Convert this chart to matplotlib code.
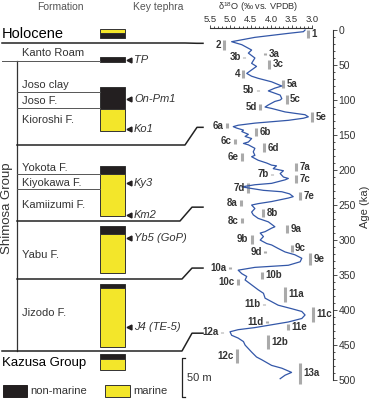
import matplotlib
matplotlib.use('Agg')
import matplotlib.pyplot as plt
from matplotlib.patches import Rectangle
from matplotlib.ticker import FixedLocator, MultipleLocator
import numpy as np

plt.rcParams['font.family'] = ['Liberation Sans', 'DejaVu Sans']
plt.rcParams['mathtext.default'] = 'regular'

# ---- d18O stack (age ka, permil) ----
age = [0, 2.4, 4.8, 10.5, 16.7, 21, 28.6, 33, 40, 47.6, 52, 57, 62, 66, 69, 74, 80, 83, 87, 93,
       98, 100, 102, 107, 110, 112, 117, 119, 121, 124, 126, 129, 133, 136, 138, 140, 143, 145,
       149, 152, 155, 160, 162, 164, 169, 174, 179, 181, 186, 190, 193, 194, 198, 201, 205, 210,
       212, 214, 219, 221, 224, 226, 229, 231, 234, 238, 240, 245, 248, 250, 255, 260, 264, 269,
       274, 281, 283, 288, 290, 295, 300, 305, 307, 312, 317, 321, 326, 331, 336, 339, 343, 348,
       352, 357, 364, 371, 376, 383, 388, 393, 398, 402, 407, 412, 417, 421, 425, 428, 431, 436,
       440, 445, 450, 455, 460, 467, 471, 479, 483, 489, 493, 498]
d18o = [3.17, 3.21, 3.58, 4.40, 4.97, 4.72, 4.48, 4.56, 4.40, 4.48, 4.36, 4.48, 4.60, 4.48, 4.32,
        3.99, 3.74, 3.91, 4.07, 3.78, 3.74, 3.78, 3.91, 4.07, 4.15, 3.99, 3.66, 3.42, 3.17, 3.09,
        3.21, 3.58, 4.40, 4.81, 4.93, 4.85, 4.68, 4.72, 4.56, 4.64, 4.48, 4.56, 4.68, 4.56, 4.40,
        4.44, 4.40, 4.48, 4.32, 4.11, 3.99, 3.87, 3.95, 3.70, 3.78, 3.70, 3.58, 3.66, 3.99, 4.40,
        4.72, 4.52, 4.19, 3.74, 3.55, 3.46, 3.58, 3.99, 4.32, 4.48, 4.40, 4.48, 4.44, 4.32, 4.07,
        3.91, 3.99, 4.15, 4.27, 4.19, 4.27, 4.11, 3.99, 3.83, 3.66, 3.42, 3.25, 3.29, 3.58, 4.40,
        4.81, 4.72, 4.60, 4.64, 4.48, 4.32, 4.19, 4.15, 3.99, 3.83, 3.50, 3.25, 3.17, 3.25, 3.58,
        3.99, 4.40, 4.81, 5.01, 4.97, 4.81, 4.68, 4.64, 4.56, 4.48, 4.36, 4.23, 3.99, 3.74, 3.50,
        3.66, 3.78]

# ---- marine isotope (sub)stages ----
mis_name = ['1', '2', '3a', '3b', '3c', '4', '5a', '5b', '5c', '5d', '5e', '6a', '6b', '6c', '6d',
            '6e', '7a', '7b', '7c', '7d', '7e', '8a', '8b', '8c', '9a', '9b', '9c', '9d', '9e',
            '10a', '10b', '10c', '11a', '11b', '11c', '11d', '11e', '12a', '12b', '12c', '13a']
mis_top = [0, 14, 33, 38, 43, 57, 71, 85, 93, 105, 117, 133, 140, 155, 162, 176, 190, 205, 207,
           219, 231, 243, 255, 269, 279, 293, 307, 316, 319, 339, 345, 355, 367, 391, 395, 416,
           420, 431, 436, 455, 476]
mis_bot = [12, 29, 35, 40, 55, 69, 83, 87, 105, 114, 131, 140, 152, 163, 174, 187, 202, 207, 219,
           233, 243, 252, 267, 276, 290, 305, 317, 318, 336, 341, 355, 364, 388, 393, 417, 418,
           429, 433, 455, 476, 505]
# where each bar sits across the plot, and which side the label goes
mis_pos = [3.09, 5.15, 4.15, 4.66, 4.05, 4.68, 3.70, 4.33, 3.62, 4.27, 2.99, 5.09, 4.38, 4.89,
           4.17, 4.71, 3.40, 3.97, 3.38, 4.56, 3.29, 4.74, 4.19, 4.72, 3.62, 4.48, 3.50, 4.15,
           3.05, 5.01, 4.23, 4.81, 3.66, 4.17, 2.97, 4.11, 3.60, 5.21, 4.09, 4.83, 3.29]
mis_side = ['r', 'l', 'r', 'l', 'r', 'l', 'r', 'l', 'r', 'l', 'r', 'l', 'r', 'l', 'r', 'l', 'r',
            'l', 'r', 'l', 'r', 'l', 'r', 'l', 'r', 'l', 'r', 'l', 'r', 'l', 'r', 'l', 'r', 'l',
            'r', 'l', 'r', 'l', 'r', 'l', 'r']

# ---- stratigraphic column (schematic, diagram units) ----
form_name = ['Kanto Roam', 'Joso clay', 'Joso F.', 'Kioroshi F.', 'Yokota F.', 'Kiyokawa F.',
             'Kamiizumi F.', 'Yabu F.', 'Jizodo F.']
form_y = [53, 85, 101, 120, 168, 183, 205, 255, 313]
thin_base = [61, 92, 108, 174, 189]          # boundaries ending at the column
seq_base = [43, 145, 221, 279, 351]          # sequence boundaries tied to glacial stages
seq_age = [19, 139, 253, 340, 433]           # age (ka) they link to
seg_top = [29, 33.3, 57.3, 87.3, 109.3, 165.7, 174, 225.7, 234.3, 284.3, 288.3, 354.3, 359.3]
seg_bot = [33.3, 38.3, 61.7, 109.3, 130.7, 174, 216, 234.3, 272.7, 288.3, 346.7, 359.3, 370]
seg_kind = ['m', 'n', 'n', 'n', 'm', 'n', 'm', 'n', 'm', 'n', 'm', 'n', 'm']
tephra = ['TP', 'On-Pm1', 'Ko1', 'Ky3', 'Km2', 'Yb5 (GoP)', 'J4 (TE-5)']
tephra_y = [60, 99, 129, 183, 215, 238, 327]

YEL = '#f3e62a'
BLK = '#231f20'
TXT = '#333333'

fig = plt.figure(figsize=(3.7, 4), dpi=100)

# left panel in pixel-like coordinates
ax = fig.add_axes([0, 0, 1, 1])
ax.set_xlim(0, 370)
ax.set_ylim(400, 0)
ax.axis('off')

# d18O panel
ax2 = fig.add_axes([205 / 370, 15 / 400, 128 / 370, 357 / 400])
ax2.patch.set_alpha(0)
ax2.set_xlim(5.623, 2.485)
ax2.set_ylim(507, -2.86)
for s in ['left', 'bottom']:
    ax2.spines[s].set_visible(False)
ax2.spines['top'].set_bounds(3.0, 5.5)
ax2.spines['right'].set_bounds(0, 500)
for s in ['top', 'right']:
    ax2.spines[s].set_linewidth(0.8)
    ax2.spines[s].set_color('#333333')
ax2.xaxis.tick_top()
ax2.yaxis.tick_right()
ax2.yaxis.set_label_position('right')
ax2.xaxis.set_major_locator(FixedLocator([5.5, 5.0, 4.5, 4.0, 3.5, 3.0]))
ax2.xaxis.set_minor_locator(FixedLocator(np.arange(3.0, 5.51, 0.1)))
ax2.yaxis.set_major_locator(MultipleLocator(50))
ax2.yaxis.set_minor_locator(MultipleLocator(10))
ax2.tick_params(which='both', direction='out', width=0.6, colors='#333333', labelsize=7.5, pad=1)
ax2.tick_params(axis='x', labelsize=6.8, pad=0.5)
ax2.tick_params(which='major', length=3)
ax2.tick_params(axis='x', which='major', length=2.5)
ax2.tick_params(which='minor', length=1.5)
ax2.set_xticklabels(['5.5', '5.0', '4.5', '4.0', '3.5', '3.0'])
ax2.set_ylabel('Age (ka)', fontsize=8, color=TXT, labelpad=3)

ax2.vlines(mis_pos, mis_top, mis_bot, color='#aaaaaa', lw=2.2)
for n, p, t, b, sd in zip(mis_name, mis_pos, mis_top, mis_bot, mis_side):
    off = 2.5 if sd == 'r' else -2.5
    ax2.annotate(n, xy=(p, (t + b) / 2), xytext=(off, 0), textcoords='offset points',
                 ha='left' if sd == 'r' else 'right', va='center', fontsize=7,
                 fontweight='bold', color=TXT)
ax2.plot(d18o, age, color='#3357a8', lw=0.9)

# axis title above the tick labels
ax.text(258, 10.5, 'δ$^{18}$O (‰ vs. VPDB)', ha='center', va='baseline', fontsize=6.6, color=TXT)

# age -> left-panel y
def age_to_y(a):
    disp = ax2.transData.transform((4.0, a))
    return ax.transData.inverted().transform(disp)[1]

# headers
ax.text(60, 7, 'Formation', ha='center', va='center', fontsize=7.5, color='#555555')
ax.text(158, 7, 'Key tephra', ha='center', va='center', fontsize=7.5, color='#555555')
ax.text(2, 34, 'Holocene', ha='left', va='center', fontsize=10.5, color='black')
ax.text(2, 363, 'Kazusa Group', ha='left', va='center', fontsize=9.5, color='black')
ax.text(7, 208, 'Shimosa Group', rotation=90, ha='center', va='center', fontsize=9.5, color=TXT)

for n, y in zip(form_name, form_y):
    ax.text(22, y, n, ha='left', va='center', fontsize=8, color=TXT)

# boundaries
ax.plot([17, 17], [61, 351], color='#333333', lw=0.9)
for i, y in enumerate(thin_base):
    x0 = 2 if i == 0 else 17
    ax.plot([x0, 100], [y, y], color='#555555', lw=0.7)
slant = [(185, 197), (185, 197), (180, 192), (182, 192), (182, 192)]
for i, (y, a) in enumerate(zip(seq_base, seq_age)):
    x0 = 2 if i in (0, 4) else 17
    yl = age_to_y(a)
    xs, xe = slant[i]
    ax.plot([x0, xs, xe, 203], [y, y, yl, yl], color='#222222', lw=1.1)

# column
for t, b, k in zip(seg_top, seg_bot, seg_kind):
    ax.add_patch(Rectangle((100, t), 25, b - t, facecolor=YEL if k == 'm' else BLK,
                           edgecolor='#333333', lw=0.7))

# tephra markers
ax.plot([129] * len(tephra_y), tephra_y, ls='none', marker='<', ms=3.5, color=BLK)
for n, y in zip(tephra, tephra_y):
    ax.text(134, y, n, ha='left', va='center', fontsize=8, style='italic', color=TXT)

# legend
ax.add_patch(Rectangle((3, 385), 24, 12, facecolor=BLK, edgecolor=BLK, lw=0.7))
ax.text(30, 391, 'non-marine', ha='left', va='center', fontsize=8, color=TXT)
ax.add_patch(Rectangle((105, 385), 25, 12, facecolor=YEL, edgecolor='#333333', lw=0.7))
ax.text(133, 391, 'marine', ha='left', va='center', fontsize=8, color=TXT)

# 50 m scale bar
ax.plot([185, 182, 182, 185], [358, 358, 397, 397], color='#222222', lw=0.9)
ax.text(187, 378, '50 m', ha='left', va='center', fontsize=8, color=TXT)

fig.savefig('out.png', dpi=100)
